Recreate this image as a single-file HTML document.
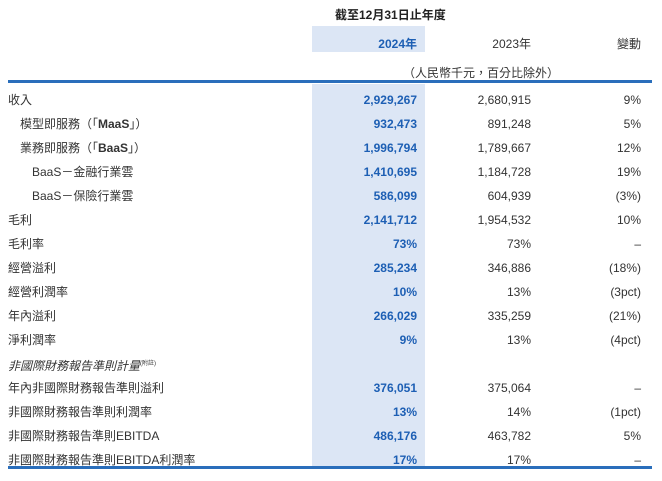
<!DOCTYPE html><html><head><meta charset="utf-8"><style>
body{margin:0;width:662px;height:481px;background:#fff;position:relative;font-family:"Liberation Sans","Noto Sans CJK TC",sans-serif;font-size:12px;color:#333;overflow:hidden}
.hl{position:absolute;background:#dce6f5}
.t{position:absolute;white-space:nowrap;line-height:14px}
.r{text-align:right}
.b{font-weight:bold;color:#1d5fb4}
.line{position:absolute;left:8px;width:644px;background:#2a6ebb}
</style></head><body>
<div class="hl" style="left:312px;top:26px;width:113px;height:26px"></div>
<div class="hl" style="left:312px;top:84px;width:113px;height:384px"></div>
<div class="t" style="left:335px;top:8px;font-weight:bold;color:#222">截至12月31日止年度</div>
<div class="t r b" style="right:245px;top:37px">2024年</div>
<div class="t r" style="right:131px;top:37px">2023年</div>
<div class="t r" style="right:21px;top:37px">變動</div>
<div class="t" style="left:403px;top:66px">（人民幣千元，百分比除外）</div>
<div class="line" style="top:80px;height:3px"></div>
<div class="line" style="top:466px;height:3px"></div>
<div id="rows"></div>
<script>
var d=[["收入","2,929,267","2,680,915","9%",8],
["模型即服務（「<b>MaaS</b>」）","932,473","891,248","5%",20],
["業務即服務（「<b>BaaS</b>」）","1,996,794","1,789,667","12%",20],
["BaaS－金融行業雲","1,410,695","1,184,728","19%",32],
["BaaS－保險行業雲","586,099","604,939","(3%)",32],
["毛利","2,141,712","1,954,532","10%",8],
["毛利率","73%","73%","–",8],
["經營溢利","285,234","346,886","(18%)",8],
["經營利潤率","10%","13%","(3pct)",8],
["年內溢利","266,029","335,259","(21%)",8],
["淨利潤率","9%","13%","(4pct)",8],
["<i>非國際財務報告準則計量</i><sup style='font-size:6px'>(附註)</sup>","","","",8],
["年內非國際財務報告準則溢利","376,051","375,064","–",8],
["非國際財務報告準則利潤率","13%","14%","(1pct)",8],
["非國際財務報告準則EBITDA","486,176","463,782","5%",8],
["非國際財務報告準則EBITDA利潤率","17%","17%","–",8]];
var h="";d.forEach(function(r,i){var y=93+i*24;
h+='<div class="t" style="left:'+r[4]+'px;top:'+y+'px">'+r[0]+'</div>';
h+='<div class="t r b" style="right:245px;top:'+y+'px">'+r[1]+'</div>';
h+='<div class="t r" style="right:131px;top:'+y+'px">'+r[2]+'</div>';
h+='<div class="t r" style="right:21px;top:'+y+'px">'+r[3]+'</div>';});
document.getElementById("rows").innerHTML=h;
</script>
</body></html>
